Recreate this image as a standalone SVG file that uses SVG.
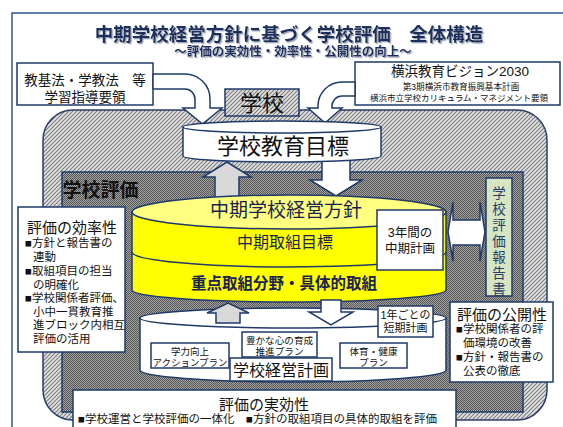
<svg xmlns="http://www.w3.org/2000/svg" width="563" height="427" viewBox="0 0 563 427">
<defs>
<pattern id="lt" width="4" height="4" patternUnits="userSpaceOnUse"><rect width="4" height="4" fill="#e2e2e2"/><path d="M-1 1L1 -1M0 4L4 0M3 5L5 3" stroke="#7c7c7c" stroke-width="1.1"/></pattern>
<pattern id="dk" width="2" height="2" patternUnits="userSpaceOnUse"><rect width="2" height="2" fill="#a2a2a2"/><rect width="1" height="1" fill="#565656"/><rect x="1" y="1" width="1" height="1" fill="#565656"/></pattern>
<filter id="sh" x="-5%" y="-20%" width="110%" height="140%"><feDropShadow dx="1.3" dy="1.3" stdDeviation="0.3" flood-color="#98a2b6"/></filter>
</defs>
<style>
text{font-family:'Liberation Sans','Noto Sans CJK JP','Noto Sans CJK SC',sans-serif;dominant-baseline:central;text-anchor:middle;fill:#111}
.l{text-anchor:start}
.b{stroke:#1F3A68;stroke-width:1.5}
.w{fill:#fff}
.t{font-weight:bold;fill:#1F2D5A}
.n{fill:#1a2350}
.v{fill:#2c3a66}
</style>

<g id="frame">
<rect x="12" y="13" width="560" height="425" fill="#fff" stroke="#2F5597" stroke-width="1.5"/>
</g>

<g id="title">
<text class="t" filter="url(#sh)"><tspan x="289" y="33.5" font-size="18.5">中期学校経営方針に基づく学校評価　全体構造</tspan><tspan x="293" y="51.5" font-size="12.5">～評価の実効性・効率性・公開性の向上～</tspan></text>
</g>

<g id="school">
<rect x="43" y="110" width="504" height="310" rx="30" fill="url(#lt)" stroke="#2a3e6a" stroke-width="1.5"/>
</g>

<g id="evaluation">
<rect x="62" y="172" width="461" height="240" fill="url(#dk)" class="b"/>
<text x="100.5" y="190" font-size="19" font-weight="bold">学校評価</text>
</g>

<g id="school-label">
<rect x="225" y="89" width="74" height="27" fill="url(#lt)" class="b"/>
<text x="262" y="103" font-size="22">学校</text>
</g>

<g id="law-box">
<rect x="17" y="63" width="136" height="42" class="w b"/>
<text font-size="13.5"><tspan x="85" y="80">教基法・学教法　等</tspan><tspan x="85" y="97">学習指導要領</tspan></text>
</g>

<g id="vision-box">
<rect x="355" y="62" width="205" height="43" class="w b"/>
<text><tspan x="460" y="71" font-size="13.5">横浜教育ビジョン2030</tspan><tspan x="461" y="87" font-size="8.6">第3期横浜市教育振興基本計画</tspan><tspan x="459" y="98" font-size="8.5">横浜市立学校カリキュラム・マネジメント要領</tspan></text>
</g>

<g id="connectors">
<path d="M153 74H185A25 25 0 0 1 210 99V108H222L202.5 124L183 108H195V99A10 10 0 0 0 185 89H153Z" class="w b"/>
<path d="M355 82H342A24 24 0 0 0 318 106V108H308L325 123L342 108H332V106A10 10 0 0 1 342 96H355Z" class="w b"/>
<path d="M215 200V177H203L227 162L251 177H239V200Z" fill="#d9d9d9" class="b"/>
<path d="M322 158V180H310L336 196L362 180H350V158Z" class="w b"/>
</g>

<g id="school-goal">
<path d="M183 127V156A99 6 0 0 0 381 156V127Z" class="w b"/>
<ellipse cx="282" cy="127" rx="99" ry="6" class="w b"/>
<text x="283" y="146" font-size="22">学校教育目標</text>
</g>

<g id="mid-policy">
<path d="M132 212V290A157 12 0 0 0 446 290V212Z" fill="#ffff00" class="b"/>
<path d="M132 252A157 15 0 0 0 446 252" fill="none" class="b"/>
<ellipse cx="289" cy="212" rx="157" ry="17" fill="#ffff80" class="b"/>
<text x="286" y="210" font-size="19" class="n">中期学校経営方針</text>
<text x="285" y="242" font-size="16" class="n">中期取組目標</text>
<text x="284" y="283" font-size="15.5" font-weight="bold" class="n">重点取組分野・具体的取組</text>
</g>

<g id="three-year">
<rect x="377" y="210" width="66" height="60" class="w b" stroke-width="1"/>
<text font-size="12.5"><tspan x="410" y="233">3年間の</tspan><tspan x="410" y="249">中期計画</tspan></text>
</g>

<g id="connectors-2">
<path d="M448 232L453 202V220H480V202L485 232L480 261V245H453V261Z" class="w b" stroke-width="1.2"/>
</g>

<g id="report">
<rect x="486" y="178" width="26" height="118" fill="#d6e6c3" class="b"/>
<text font-size="13.5" class="v"><tspan x="499" y="193">学</tspan><tspan x="499" y="209">校</tspan><tspan x="499" y="225">評</tspan><tspan x="499" y="241">価</tspan><tspan x="499" y="257">報</tspan><tspan x="499" y="273">告</tspan><tspan x="499" y="289">書</tspan></text>
</g>

<g id="efficiency">
<rect x="18" y="207" width="107" height="145" class="w b"/>
<text><tspan x="72" y="227" font-size="15">評価の効率性</tspan><tspan font-size="11.5" x="25" y="243" class="l">■方針と報告書の</tspan><tspan font-size="11.5" x="33" y="257" class="l">連動</tspan><tspan font-size="11.5" x="25" y="271" class="l">■取組項目の担当</tspan><tspan font-size="11.5" x="33" y="284.5" class="l">の明確化</tspan><tspan font-size="11.5" x="25" y="298" class="l">■学校関係者評価、</tspan><tspan font-size="11.5" x="33" y="311.5" class="l">小中一貫教育推</tspan><tspan font-size="11.5" x="33" y="325" class="l">進ブロック内相互</tspan><tspan font-size="11.5" x="33" y="339" class="l">評価の活用</tspan></text>
</g>

<g id="management-plan">
<path d="M140 318V370A153 12 0 0 0 446 370V318Z" class="w b"/>
<ellipse cx="293" cy="318" rx="153" ry="10" class="w b"/>
<rect x="151" y="343" width="78" height="25" class="w b" stroke-width="1"/>
<text font-size="9.5"><tspan x="190" y="350.5">学力向上</tspan><tspan x="190" y="361.5">アクションプラン</tspan></text>
<rect x="242" y="332" width="75" height="25" class="w b" stroke-width="1"/>
<text font-size="9.6"><tspan x="279.5" y="339.5">豊かな心の育成</tspan><tspan x="279.5" y="350.5">推進プラン</tspan></text>
<rect x="340" y="343" width="67" height="25" class="w b" stroke-width="1"/>
<text font-size="9.6"><tspan x="373.5" y="350.5">体育・健康</tspan><tspan x="373.5" y="361.5">プラン</tspan></text>
<rect x="230" y="358" width="102" height="23" class="w b" stroke-width="1"/>
<text x="281" y="370.5" font-size="16">学校経営計画</text>
</g>

<g id="connectors-3">
<path d="M216 323V313H207L228 303L249 313H240V323Z" fill="#d9d9d9" class="b"/>
<path d="M321 300V312H309L331 325L353 312H341V300Z" class="w b"/>
</g>

<g id="one-year">
<rect x="378" y="306" width="55" height="31" class="w b" stroke-width="1"/>
<text font-size="11"><tspan x="405.5" y="315">1年ごとの</tspan><tspan x="405.5" y="328">短期計画</tspan></text>
</g>

<g id="openness">
<rect x="450" y="302" width="103" height="80" class="w b"/>
<text><tspan x="502" y="314" font-size="15">評価の公開性</tspan><tspan font-size="11.5" x="456" y="329" class="l">■学校関係者の評</tspan><tspan font-size="11.5" x="463" y="343" class="l">価環境の改善</tspan><tspan font-size="11.5" x="456" y="357" class="l">■方針・報告書の</tspan><tspan font-size="11.5" x="463" y="371" class="l">公表の徹底</tspan></text>
</g>

<g id="effectiveness">
<rect x="73" y="390" width="383" height="45" class="w b"/>
<text><tspan x="264" y="404" font-size="15">評価の実効性</tspan><tspan x="78" y="419" font-size="11.5" class="l">■学校運営と学校評価の一体化　■方針の取組項目の具体的取組を評価</tspan></text>
</g>
</svg>
